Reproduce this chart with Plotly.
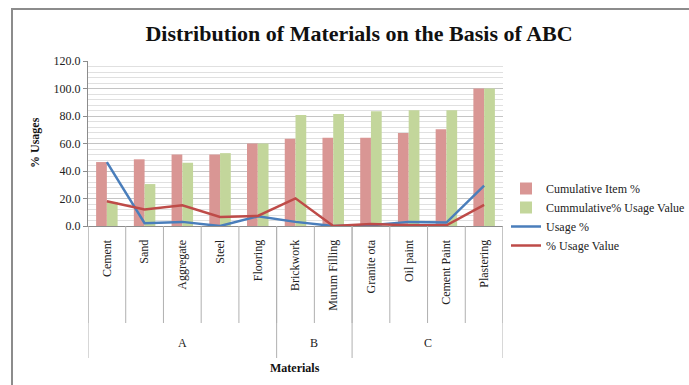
import plotly.graph_objects as go

# Materials, ABC class of each, and the four series (percent)
materials = ["Cement", "Sand", "Aggregate", "Steel", "Flooring", "Brickwork",
             "Murum Filling", "Granite ota", "Oil paint", "Cement Paint", "Plastering"]
abc_groups = ["A", "B", "C"]
group_sizes = [5, 2, 4]
cumulative_item_pct = [46.5, 48.5, 52.0, 52.0, 60.0, 63.5, 64.2, 64.2, 67.6, 70.3, 100.0]
cumulative_usage_value = [17.5, 30.5, 46.0, 53.0, 60.0, 80.7, 81.5, 83.4, 84.1, 84.1, 100.0]
usage_pct = [46.5, 2.0, 3.0, 0.0, 7.0, 3.0, 0.0, 0.5, 3.0, 2.5, 29.3]
usage_value_pct = [18.0, 12.0, 15.0, 6.5, 7.3, 20.1, 0.0, 1.5, 0.5, 0.5, 15.3]
y_ticks = [0, 20, 40, 60, 80, 100, 120]

FONT = "Liberation Serif, Times New Roman, serif"
idx = list(range(len(materials)))

fig = go.Figure()
fig.add_trace(go.Bar(x=idx, y=cumulative_item_pct, name="Cumulative Item %",
                     marker=dict(color="#D99694", line=dict(width=0))))
fig.add_trace(go.Bar(x=idx, y=cumulative_usage_value, name="Cummulative% Usage Value",
                     marker=dict(color="#C3D69B", line=dict(width=0))))
fig.add_trace(go.Scatter(x=idx, y=usage_pct, name="Usage %", mode="lines",
                         line=dict(color="#4A7EBB", width=2.5)))
fig.add_trace(go.Scatter(x=idx, y=usage_value_pct, name="% Usage Value", mode="lines",
                         line=dict(color="#BE4B48", width=2.5)))

L, R, T, B = 88, 186, 61, 159
W, H = 689, 385
pw, ph = W - L - R, H - T - B

def px_x(p):
    return (p - L) / pw

def px_y(p):
    return (H - B - p) / ph

shapes = []
# Category dividers under the axis
for i in range(len(materials) + 1):
    shapes.append(dict(type="line", xref="x", yref="paper", x0=i - 0.5, x1=i - 0.5,
                       y0=0, y1=px_y(323), line=dict(color="#B0B0B0", width=1)))
# Group dividers reaching down to the group row
edge = -0.5
edges = [edge]
for s in group_sizes:
    edge += s
    edges.append(edge)
for e in edges:
    shapes.append(dict(type="line", xref="x", yref="paper", x0=e, x1=e,
                       y0=0, y1=px_y(358), line=dict(color="#B0B0B0", width=1)))
# Chart frame
shapes.append(dict(type="rect", xref="paper", yref="paper",
                   x0=px_x(12), x1=px_x(700), y0=px_y(400), y1=px_y(9),
                   line=dict(color="#8C8C8C", width=2), fillcolor="rgba(0,0,0,0)"))

annotations = []
for g, a, b in zip(abc_groups, edges[:-1], edges[1:]):
    annotations.append(dict(x=(a + b) / 2, y=px_y(343), xref="x", yref="paper",
                            xanchor="center", yanchor="middle",
                            text=g, showarrow=False, font=dict(size=12, color="#222")))
annotations.append(dict(x=px_x(295), y=px_y(368), xref="paper", yref="paper",
                        xanchor="center", yanchor="middle",
                        text="<b>Materials</b>", showarrow=False,
                        font=dict(size=12, color="#111")))
annotations.append(dict(x=px_x(35), y=px_y(143), xref="paper", yref="paper",
                        xanchor="center", yanchor="middle",
                        text="<b>% Usages</b>", textangle=-90, showarrow=False,
                        font=dict(size=12, color="#111")))

fig.update_layout(
    width=W, height=H,
    margin=dict(l=L, r=R, t=T, b=B, autoexpand=False),
    paper_bgcolor="white", plot_bgcolor="white",
    font=dict(family=FONT, size=12, color="#222"),
    title=dict(text="<b>Distribution of Materials on the Basis of ABC</b>",
               x=359 / W, xanchor="center", y=1 - 33 / H, yanchor="middle",
               font=dict(size=22, color="#111", family=FONT)),
    barmode="group", bargap=0.43, bargroupgap=0,
    showlegend=True,
    legend=dict(x=px_x(506), y=px_y(174), xanchor="left", yanchor="top",
                font=dict(size=12, family=FONT, color="#222"),
                bgcolor="rgba(0,0,0,0)", tracegroupgap=0),
    shapes=shapes, annotations=annotations,
)
fig.update_xaxes(range=[-0.5, len(materials) - 0.5], tickmode="array", tickvals=idx,
                 ticktext=materials, tickangle=-90, ticks="", ticklabelstandoff=8,
                 automargin=False,
                 showgrid=False, zeroline=False, showline=True, linecolor="#8C8C8C",
                 linewidth=1, tickfont=dict(size=12, color="#222"))
fig.update_yaxes(range=[0, 120], tickmode="array", tickvals=y_ticks, automargin=False,
                 tickformat=".1f", ticks="outside", ticklen=4, tickcolor="#8C8C8C",
                 showline=True, linecolor="#8C8C8C", linewidth=1,
                 showgrid=True, gridcolor="#C4C4C4", gridwidth=1, zeroline=False,
                 minor=dict(dtick=4, showgrid=True, gridcolor="#E0E0E0", gridwidth=1),
                 tickfont=dict(size=12, color="#222"))

fig.write_html("out.html")
